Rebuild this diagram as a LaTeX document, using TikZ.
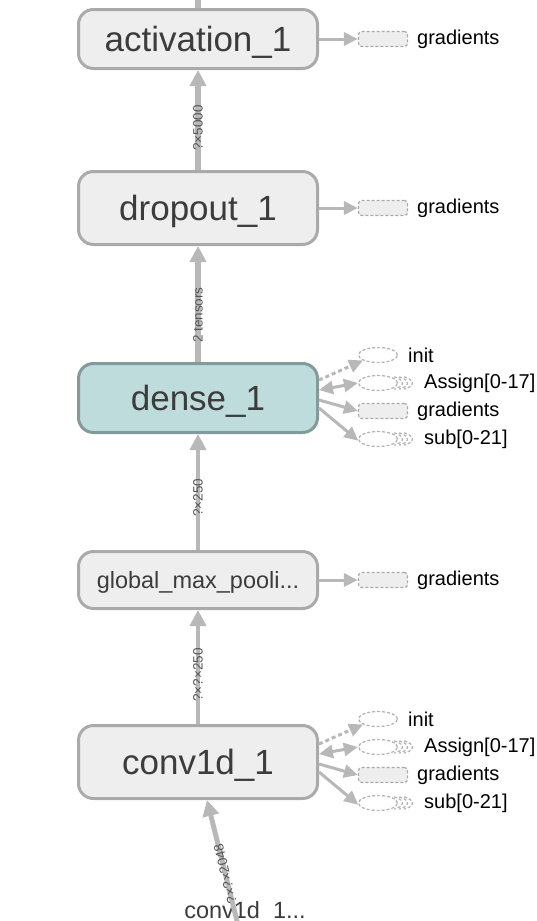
\documentclass[tikz,border=0pt]{standalone}
\usepackage{fontspec}
\setmainfont{Liberation Sans}
\usetikzlibrary{arrows.meta,shapes.geometric,calc}
\definecolor{nodefill}{HTML}{EEEEEE}
\definecolor{nodeborder}{HTML}{AAAAAA}
\definecolor{densefill}{HTML}{BFDCDC}
\definecolor{denseborder}{HTML}{829A9A}
\definecolor{edgecol}{HTML}{B8B8B8}
\definecolor{labelcol}{HTML}{555555}
\definecolor{textcol}{HTML}{3C3C3C}
\definecolor{auxline}{HTML}{B4B4B4}
\tikzset{
  opnode/.style={draw=nodeborder, fill=nodefill, line width=3pt, rounded corners=15pt,
    minimum width=239pt, text=textcol, font=\fontsize{35}{40}\selectfont, inner sep=0pt,
    text height=25pt, text depth=1pt},
  flow/.style={draw=edgecol, line width=#1, -{Triangle[width=16pt,length=16pt]}},
  elabel/.style={font=\fontsize{13.5}{14}\selectfont, text=labelcol, rotate=90, inner sep=0pt},
  auxarr/.style={draw=edgecol, line width=3pt, -{Triangle[width=13pt,length=14pt]}},
  auxrect/.style={draw=nodeborder, dash pattern=on 3pt off 2pt, fill=nodefill, line width=1.2pt,
    rounded corners=3pt, minimum width=49pt, minimum height=15pt, inner sep=0pt},
  auxell/.style={ellipse, draw=auxline, dash pattern=on 3pt off 2pt, line width=1.3pt,
    minimum width=39pt, minimum height=15pt, inner sep=0pt},
  serarc/.style={draw=auxline, dash pattern=on 3pt off 2pt, line width=1.3pt},
  auxtext/.style={font=\fontsize{20}{22}\selectfont, anchor=west, inner sep=0pt, text=black},
}
\begin{document}
\begin{tikzpicture}[x=1pt,y=-1pt]
\useasboundingbox (0,0) rectangle (537,921);
\clip (0,0) rectangle (537,921);

% main nodes
\node[opnode, minimum height=59pt] (act) at (198,39) {activation\_1};
\node[opnode, minimum height=73pt] (drop) at (198,208) {dropout\_1};
\node[opnode, minimum height=69pt, fill=densefill, draw=denseborder] (dense) at (198,398) {dense\_1};
\node[opnode, minimum height=57pt, font=\fontsize{23.5}{26}\selectfont, text height=17pt, text depth=1pt] (gmp) at (198,580) {global\_max\_pooli...};
\node[opnode, minimum height=73pt] (conv) at (198,762) {conv1d\_1};
\node[font=\fontsize{23.5}{26}\selectfont, text=textcol, inner sep=0pt] (inp) at (245,912) {conv1d\_1...};

% main edges
\coordinate (topc) at (198,-4);
\draw[edgecol, line width=6pt] (act.north) -- (topc);
\draw[flow=6pt] (drop.north) -- node[elabel, pos=0.42] {?×5000} (act.south);
\draw[flow=6pt] (dense.north) -- node[elabel, pos=0.405] {2 tensors} (drop.south);
\draw[flow=4.5pt] (gmp.north) -- node[elabel, pos=0.45] {?×250} (dense.south);
\draw[flow=4.5pt] (conv.north) -- node[elabel, pos=0.43] {?×?×250} (gmp.south);
\coordinate (botc) at (238,925);
\draw[flow=5pt] (botc) -- node[elabel, pos=0.41, rotate=14] {?×?×2048} ([xshift=9pt]conv.south);

% auxiliary: activation, dropout, gmp
\node[auxrect] (ga) at (383,39) {};
\node[auxtext] (gat) at (417,39) {gradients};
\draw[auxarr] (act.east) -- (ga.west);
\node[auxrect] (gd) at (383,208) {};
\node[auxtext] (gdt) at (417,208) {gradients};
\draw[auxarr] (drop.east) -- (gd.west);
\node[auxrect] (gg) at (383,580) {};
\node[auxtext] (ggt) at (417,580) {gradients};
\draw[auxarr] (gmp.east) -- (gg.west);

% auxiliary: dense
\node[auxell] (ini1) at (378,355) {};
\node[auxtext] (ini1t) at (408,355) {init};
\node[auxell] (asg1) at (378,383) {};
\node[auxtext] (asg1t) at (424,383) {Assign[0-17]};
\node[auxrect] (gr1) at (383,411) {};
\node[auxtext] (gr1t) at (417,411) {gradients};
\node[auxell] (sub1) at (378,439) {};
\node[auxtext] (sub1t) at (424,439) {sub[0-21]};
\draw[auxarr, dash pattern=on 4pt off 3pt] ([yshift=18pt]dense.east) -- (ini1.200);
\draw[auxarr, {Triangle[width=13pt,length=14pt]}-{Triangle[width=13pt,length=14pt]}] ([yshift=8pt]dense.east) -- (asg1.west);
\draw[auxarr] ([yshift=-2pt]dense.east) -- (gr1.west);
\draw[auxarr] ([yshift=-10pt]dense.east) -- (sub1.185);

% auxiliary: conv
\node[auxell] (ini2) at (378,719) {};
\node[auxtext] (ini2t) at (408,719) {init};
\node[auxell] (asg2) at (378,747) {};
\node[auxtext] (asg2t) at (424,747) {Assign[0-17]};
\node[auxrect] (gr2) at (383,775) {};
\node[auxtext] (gr2t) at (417,775) {gradients};
\node[auxell] (sub2) at (378,803) {};
\node[auxtext] (sub2t) at (424,803) {sub[0-21]};
\draw[auxarr, dash pattern=on 4pt off 3pt] ([yshift=18pt]conv.east) -- (ini2.200);
\draw[auxarr, {Triangle[width=13pt,length=14pt]}-{Triangle[width=13pt,length=14pt]}] ([yshift=8pt]conv.east) -- (asg2.west);
\draw[auxarr] ([yshift=-2pt]conv.east) -- (gr2.west);
\draw[auxarr] ([yshift=-10pt]conv.east) -- (sub2.185);

% series arcs
\foreach \n in {asg1,sub1,asg2,sub2}{
  \foreach \k in {5,10,15}{
    \draw[serarc] ($(\n.center)+(\k,0)+(-55:19.5 and 7.5)$) arc[start angle=-55, end angle=55, x radius=19.5, y radius=7.5];
  }
}
\end{tikzpicture}
\end{document}
